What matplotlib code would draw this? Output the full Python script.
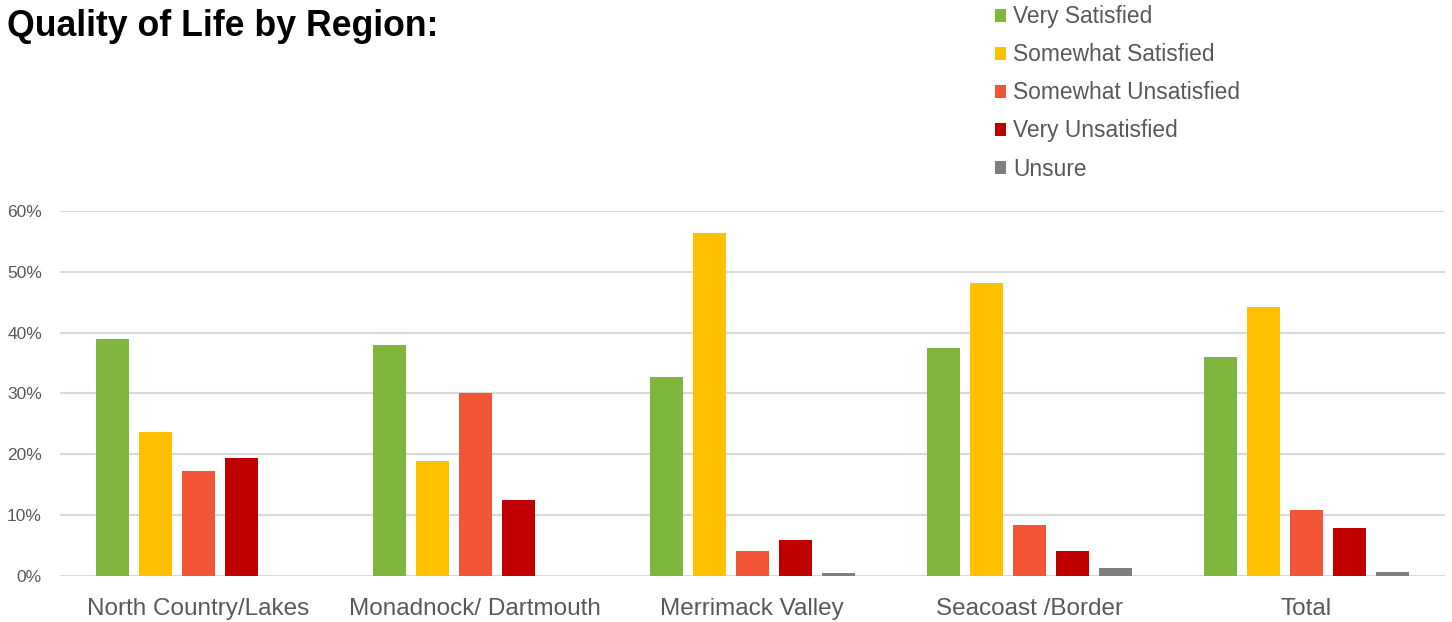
import matplotlib.pyplot as plt
import numpy as np
from matplotlib.patches import Patch
from matplotlib.ticker import FuncFormatter

plt.rcParams["font.family"] = ["Liberation Sans", "DejaVu Sans"]

REGIONS = ["North Country/Lakes", "Monadnock/ Dartmouth", "Merrimack Valley", "Seacoast /Border", "Total"]
SERIES = ["Very Satisfied", "Somewhat Satisfied", "Somewhat Unsatisfied", "Very Unsatisfied", "Unsure"]
VERY_SAT = [0.390, 0.380, 0.327, 0.375, 0.360]
SOMEWHAT_SAT = [0.237, 0.189, 0.564, 0.482, 0.442]
SOMEWHAT_UNSAT = [0.173, 0.301, 0.041, 0.084, 0.109]
VERY_UNSAT = [0.194, 0.125, 0.059, 0.041, 0.079]
UNSURE = [0.0, 0.0, 0.005, 0.013, 0.007]

COLORS = ["#7fb63d", "#ffc000", "#f15535", "#c00000", "#7f7f7f"]
TEXT_GREY = "#595959"
GRID_GREY = "#d9d9d9"

BAR_W = 0.12
STEP = 0.155

fig = plt.figure(figsize=(14.52, 6.22), dpi=100)
ax = fig.add_axes([0.0413, 0.074, 0.9537, 0.587])

x = np.arange(len(REGIONS))
all_vals = [VERY_SAT, SOMEWHAT_SAT, SOMEWHAT_UNSAT, VERY_UNSAT, UNSURE]
for i, (vals, col) in enumerate(zip(all_vals, COLORS)):
    ax.bar(x + (i - 2) * STEP, vals, width=BAR_W, color=col, zorder=3)

ax.set_xlim(-0.5, len(REGIONS) - 0.5)
ax.set_ylim(0, 0.6)
ax.set_yticks(np.arange(0, 0.61, 0.1))
ax.yaxis.set_major_formatter(FuncFormatter(lambda v, _: f"{v * 100:.0f}%"))
ax.grid(axis="y", color=GRID_GREY, linewidth=1.5, zorder=0)
ax.set_axisbelow(True)
for s in ax.spines.values():
    s.set_visible(False)
ax.tick_params(axis="y", length=0, labelsize=12.5, labelcolor=TEXT_GREY, pad=13)
ax.tick_params(axis="x", length=0, labelsize=17.5, labelcolor=TEXT_GREY, pad=16)
ax.set_xticks(x)
ax.set_xticklabels(REGIONS)

fig.text(0.005, 0.958, "Quality of Life by Region:", fontsize=25.7, fontweight="bold",
         ha="left", va="center", color="black")

handles = [Patch(facecolor=c, edgecolor="none") for c in COLORS]
fig.legend(handles, SERIES, loc="upper left", bbox_to_anchor=(0.679, 1.006),
           frameon=False, fontsize=16.4, labelcolor=TEXT_GREY,
           handlelength=0.5, handleheight=0.5, handletextpad=0.3,
           labelspacing=0.66, borderaxespad=0.0)

fig.savefig("out.png", dpi=100)
